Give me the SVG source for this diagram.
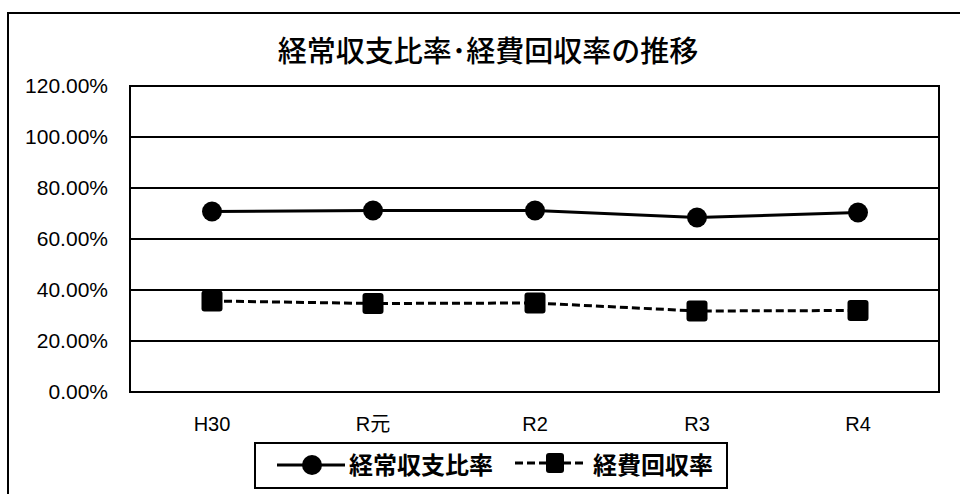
<svg xmlns="http://www.w3.org/2000/svg" width="960" height="494" viewBox="0 0 960 494">
  <style>
    .num { font-family: "Liberation Sans", "Noto Sans CJK JP", sans-serif; font-size: 21px; fill: #000; }
    .cat { font-family: "Liberation Sans", "Noto Sans CJK JP", sans-serif; font-size: 20px; fill: #000; text-anchor: middle; }
    .title { font-family: "Noto Sans CJK JP", sans-serif; font-size: 29px; font-weight: 500; fill: #000; text-anchor: middle; }
    .leg { font-family: "Noto Sans CJK JP", sans-serif; font-size: 24px; font-weight: bold; fill: #000; }
    .grid { stroke: #000; stroke-width: 2; fill: none; }
    .s1 { stroke: #000; stroke-width: 3; fill: none; }
    .s2 { stroke: #000; stroke-width: 3; fill: none; stroke-dasharray: 8 4; }
  </style>
  <defs>
    <rect id="sq" x="-10.5" y="-10.5" width="21" height="21" rx="3" fill="#000"/>
  </defs>
  <rect x="0" y="0" width="960" height="494" fill="#fff"/>
  <g id="frame">
    <path d="M8 494 V13 H960" fill="none" stroke="#000" stroke-width="2"/>
  </g>
  <g id="title">
    <text class="title" x="488" y="62">経常収支比率･経費回収率の推移</text>
  </g>
  <g id="plot">
    <rect x="130" y="86" width="809" height="306" class="grid" stroke-width="2.5"/>
    <line class="grid" x1="130" y1="137" x2="939" y2="137"/>
    <line class="grid" x1="130" y1="188" x2="939" y2="188"/>
    <line class="grid" x1="130" y1="239" x2="939" y2="239"/>
    <line class="grid" x1="130" y1="290" x2="939" y2="290"/>
    <line class="grid" x1="130" y1="341" x2="939" y2="341"/>
  </g>
  <g id="y-axis" text-anchor="end">
    <text class="num" x="108" y="93">120.00%</text>
    <text class="num" x="108" y="144">100.00%</text>
    <text class="num" x="108" y="195">80.00%</text>
    <text class="num" x="108" y="246">60.00%</text>
    <text class="num" x="108" y="297">40.00%</text>
    <text class="num" x="108" y="348">20.00%</text>
    <text class="num" x="108" y="399">0.00%</text>
  </g>
  <g id="x-axis">
    <text class="cat" x="212" y="431">H30</text>
    <text class="cat" x="373" y="431">R元</text>
    <text class="cat" x="535" y="431">R2</text>
    <text class="cat" x="697" y="431">R3</text>
    <text class="cat" x="858" y="431">R4</text>
  </g>
  <g id="connectors">
    <polyline class="s1" points="212,211.5 373,210.5 535,210.5 697,217.5 858,212.5"/>
    <polyline class="s2" points="212,301 373,303.5 535,303 697,311 858,310.5"/>
  </g>
  <g id="series1-markers" fill="#000">
    <circle cx="212" cy="211.5" r="10"/>
    <circle cx="373" cy="210.5" r="10"/>
    <circle cx="535" cy="210.5" r="10"/>
    <circle cx="697" cy="217.5" r="10"/>
    <circle cx="858" cy="212.5" r="10"/>
  </g>
  <g id="series2-markers">
    <use href="#sq" x="212" y="301"/>
    <use href="#sq" x="373" y="303.5"/>
    <use href="#sq" x="535" y="303"/>
    <use href="#sq" x="697" y="311"/>
    <use href="#sq" x="858" y="310.5"/>
  </g>
  <g id="legend">
    <rect x="255" y="443" width="472" height="45" fill="#fff" stroke="#000" stroke-width="2"/>
    <line class="s1" x1="277" y1="465" x2="345" y2="465"/>
    <circle cx="312" cy="465" r="10" fill="#000"/>
    <text class="leg" x="349" y="474">経常収支比率</text>
    <line class="s2" x1="515" y1="463" x2="587" y2="463"/>
    <rect x="546" y="453" width="18" height="20" rx="3" fill="#000"/>
    <text class="leg" x="593" y="474">経費回収率</text>
  </g>
</svg>
